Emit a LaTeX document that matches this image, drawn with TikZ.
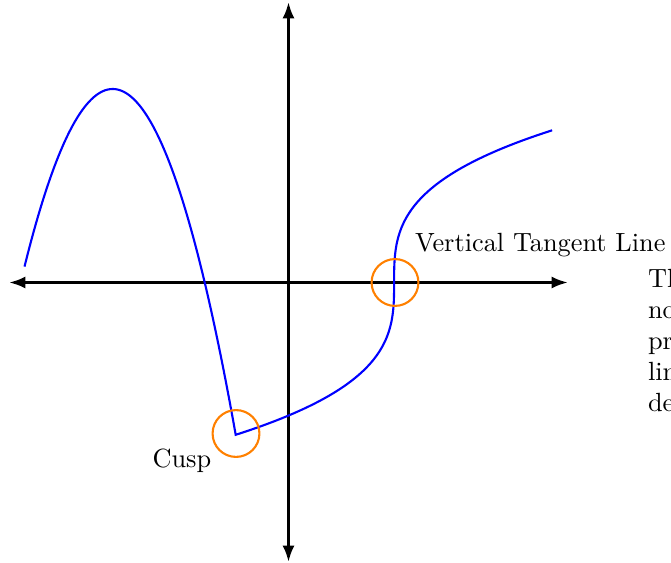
\documentclass[tikz,border=0pt]{standalone}
\usetikzlibrary{arrows.meta}
\tikzset{
  axis/.style={line width=1.15pt, -{Latex[length=6.2pt,width=4.6pt]}},
  curve/.style={blue, line width=0.8pt, line join=miter},
  mark circle/.style={circle, draw=orange, line width=0.8pt, minimum size=17.8pt, inner sep=0pt},
  label text/.style={anchor=base west, inner sep=0pt, outer sep=0pt},
}
\begin{document}
\begin{tikzpicture}[x=0.38pt, y=-0.38pt]
\useasboundingbox (0,0) rectangle (671,563);
% axes
\coordinate (O) at (288.5,282.5);
\coordinate (xl) at (9,282.5);
\coordinate (xr) at (568,282.5);
\coordinate (yt) at (288.5,2);
\coordinate (yb) at (288.5,562);
\draw[axis] (O) -- (xl);
\draw[axis] (O) -- (xr);
\draw[axis] (O) -- (yt);
\draw[axis] (O) -- (yb);
% curve
\begin{scope}[shift={(288.5,282.5)}, x=20.064pt, y=20.064pt]
\draw[curve] plot[domain=-5:-1, samples=80, smooth] (\x, {3.665-1.2063*(\x+3.33)*(\x+3.33)})
  -- plot[variable=\t, domain=-1.44225:1.44225, samples=120, smooth] ({2+\t*\t*\t}, {2*\t});
\end{scope}
% markers
\node[mark circle] (cusp) at (236,433.5) {};
\node[mark circle] (vt) at (395,282.5) {};
% labels
\node[label text] (vtl) at (415,252) {Vertical Tangent Line};
\node[label text] (cl) at (152.5,468) {Cusp};
\node[label text] (p1) at (648,288) {Th};
\node[label text] (p2) at (648,319) {no};
\node[label text] (p3) at (648,350) {pr};
\node[label text] (p4) at (648,381) {lin};
\node[label text] (p5) at (648,412) {de};
\end{tikzpicture}
\end{document}
